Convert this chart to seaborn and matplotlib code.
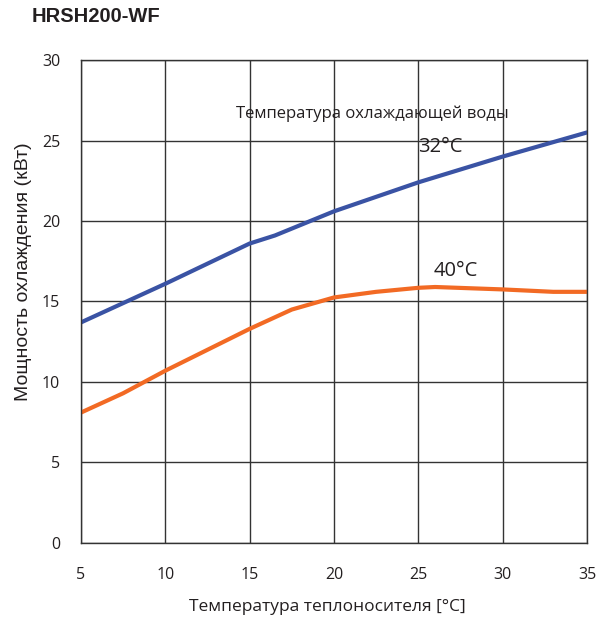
import matplotlib
matplotlib.use("Agg")
import matplotlib.pyplot as plt
import seaborn as sns
import pandas as pd

# Heat-carrier temperature (°C) and cooling capacity (kW)
x_32 = [5, 10, 15, 16.5, 20, 25, 30, 35]
y_32 = [13.7, 16.1, 18.6, 19.1, 20.6, 22.4, 24.0, 25.5]
x_40 = [5, 7.5, 10, 12.5, 15, 17.5, 20, 22.5, 25, 26, 30, 33, 35]
y_40 = [8.1, 9.3, 10.7, 12.0, 13.3, 14.5, 15.25, 15.6, 15.85, 15.9, 15.75, 15.6, 15.6]

x_ticks = [5, 10, 15, 20, 25, 30, 35]
y_ticks = [0, 5, 10, 15, 20, 25, 30]

df = pd.concat([
    pd.DataFrame({"t": x_32, "q": y_32, "s": "32°C"}),
    pd.DataFrame({"t": x_40, "q": y_40, "s": "40°C"}),
])

sns.set_style("white")
plt.rcParams["font.family"] = ["Open Sans", "DejaVu Sans"]

fig = plt.figure(figsize=(6.07, 6.27), dpi=100)
ax = fig.add_axes([0.1334, 0.134, 0.8336, 0.7703])

sns.lineplot(data=df, x="t", y="q", hue="s",
             palette={"32°C": "#3a53a4", "40°C": "#f26a24"},
             linewidth=3.0, legend=False, ax=ax, sort=False)

ax.set_xlim(5, 35)
ax.set_ylim(0, 30)
ax.set_xticks(x_ticks)
ax.set_yticks(y_ticks)
ax.grid(True, color="#333333", linewidth=1.0)
ax.set_axisbelow(True)
for sp in ax.spines.values():
    sp.set_color("#333333")
    sp.set_linewidth(1.0)
ax.tick_params(axis="both", labelsize=11.5, length=0, colors="#231f20")
ax.tick_params(axis="x", pad=17)
ax.tick_params(axis="y", pad=15)

ax.set_xlabel("Температура теплоносителя [°C]", fontsize=12.5, color="#231f20")
ax.xaxis.set_label_coords(0.486, -0.115)
ax.set_ylabel("Мощность охлаждения (кВт)", fontsize=14, family="Liberation Sans",
              color="#231f20")
ax.yaxis.set_label_coords(-0.097, 0.562)

ax.text(14.2, 26.65, "Температура охлаждающей воды", fontsize=12, color="#231f20",
        va="center", ha="left")
ax.text(25.0, 24.6, "32°C", fontsize=14.5, color="#231f20", va="center", ha="left")
ax.text(25.9, 16.9, "40°C", fontsize=14.5, color="#231f20", va="center", ha="left")

fig.text(32 / 607, 1 - 17 / 627, "HRSH200-WF", fontsize=14.5, fontweight="bold",
         family="Liberation Sans", color="#231f20", va="center", ha="left")

fig.savefig("out.png", dpi=100)
